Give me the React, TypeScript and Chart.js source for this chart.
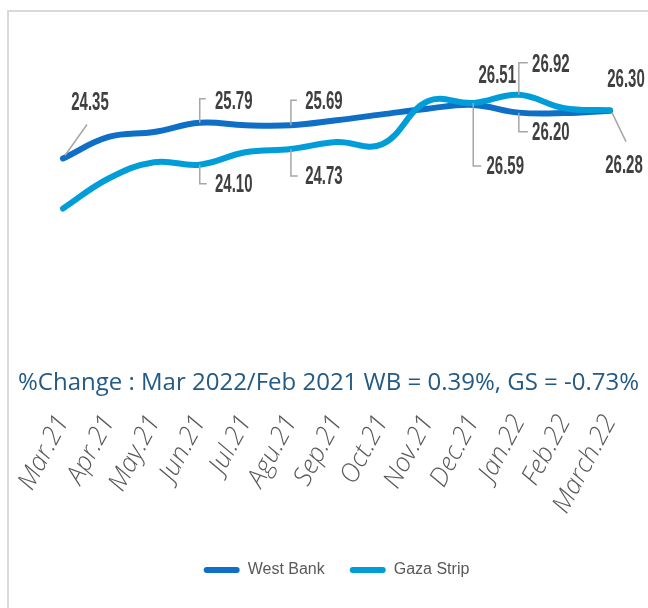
import React, { useEffect, useRef } from 'react';
import { Chart, registerables } from 'chart.js';

Chart.register(...registerables);

const categories = ['Mar.21', 'Apr.21', 'May.21', 'Jun.21', 'Jul.21', 'Agu.21', 'Sep.21', 'Oct.21', 'Nov.21', 'Dec.21', 'Jan.22', 'Feb.22', 'March.22'];
const westBank = [24.35, 25.22, 25.42, 25.79, 25.69, 25.69, 25.89, 26.13, 26.36, 26.51, 26.2, 26.18, 26.28];
const gazaStrip = [22.33, 23.54, 24.2, 24.1, 24.6, 24.73, 25.01, 24.92, 26.66, 26.59, 26.92, 26.38, 26.3];
const seriesNames = ['West Bank', 'Gaza Strip'];
const seriesColors = ['#0F6FC6', '#009DD9'];
const changeNote = '%Change : Mar 2022/Feb 2021 WB = 0.39%, GS = -0.73%';
const yMin = 14.68;
const yMax = 30.02;

type LabelSpec = { series: number; index: number; dx: number; dy: number; leader: number[][] };

// label placement: offsets from the data point, with optional leader polyline
const labelSpecs: LabelSpec[] = [
  { series: 0, index: 0, dx: 27, dy: -56, leader: [[2, -3], [24, -34]] },
  { series: 0, index: 3, dx: 34, dy: -22, leader: [[0, 0], [0, -24], [6, -24]] },
  { series: 0, index: 5, dx: 33, dy: -24, leader: [[0, 0], [0, -25], [6, -25]] },
  { series: 1, index: 3, dx: 34, dy: 19, leader: [[0, 0], [0, 19], [7, 19]] },
  { series: 1, index: 5, dx: 33, dy: 27, leader: [[0, 0], [0, 27], [7, 27]] },
  { series: 1, index: 9, dx: 32, dy: 63, leader: [[0, 0], [0, 63], [8, 63]] },
  { series: 0, index: 9, dx: 24, dy: -30, leader: [] },
  { series: 1, index: 10, dx: 32, dy: -31, leader: [[0, 0], [0, -32], [9, -32]] },
  { series: 0, index: 10, dx: 32, dy: 19, leader: [[0, 0], [0, 19], [9, 19]] },
  { series: 1, index: 12, dx: 16, dy: -31, leader: [] },
  { series: 0, index: 12, dx: 14, dy: 54, leader: [[2, 2], [16, 31]] },
];

const valueLabelPlugin = {
  id: 'valueLabels',
  afterDatasetsDraw(chart: any) {
    const ctx = chart.ctx;
    ctx.save();
    labelSpecs.forEach((s) => {
      const meta = chart.getDatasetMeta(s.series);
      const pt = meta.data[s.index];
      const value = chart.data.datasets[s.series].data[s.index] as number;
      const x = pt.x;
      const y = pt.y;
      if (s.leader.length) {
        ctx.beginPath();
        ctx.strokeStyle = '#A6A6A6';
        ctx.lineWidth = 1.5;
        s.leader.forEach(([lx, ly], k) => {
          if (k === 0) ctx.moveTo(x + lx, y + ly);
          else ctx.lineTo(x + lx, y + ly);
        });
        ctx.stroke();
      }
      ctx.save();
      ctx.translate(x + s.dx, y + s.dy);
      ctx.scale(0.6, 1);
      ctx.font = 'bold 25px "Liberation Sans", Arial, sans-serif';
      ctx.fillStyle = '#404040';
      ctx.textAlign = 'center';
      ctx.textBaseline = 'middle';
      ctx.fillText(value.toFixed(2), 0, 1);
      ctx.restore();
    });
    ctx.restore();
  },
};

export default function App() {
  const canvasRef = useRef<HTMLCanvasElement | null>(null);

  useEffect(() => {
    if (!canvasRef.current) return;
    const chart = new Chart(canvasRef.current, {
      type: 'line',
      data: {
        labels: categories,
        datasets: [
          {
            label: seriesNames[0],
            data: westBank,
            borderColor: seriesColors[0],
            backgroundColor: seriesColors[0],
            borderWidth: 6,
            pointRadius: 0,
            tension: 0.4,
            borderCapStyle: 'round',
            borderJoinStyle: 'round',
            clip: false,
            order: 1,
          },
          {
            label: seriesNames[1],
            data: gazaStrip,
            borderColor: seriesColors[1],
            backgroundColor: seriesColors[1],
            borderWidth: 6,
            pointRadius: 0,
            tension: 0.4,
            borderCapStyle: 'round',
            borderJoinStyle: 'round',
            clip: false,
            order: 0,
          },
        ],
      },
      options: {
        responsive: false,
        animation: false,
        layout: { padding: { left: 63, right: 38, top: 18, bottom: 20 } },
        scales: {
          x: {
            offset: false,
            grid: { display: false },
            border: { display: false },
            ticks: {
              autoSkip: false,
              minRotation: 62,
              maxRotation: 62,
              padding: 4,
              color: '#595959',
              font: { family: '"Open Sans"', size: 26, style: 'italic', weight: '300' },
            },
            afterFit: (axis: any) => {
              axis.height = 139;
            },
          },
          y: { display: false, min: yMin, max: yMax },
        },
        plugins: {
          legend: {
            position: 'bottom',
            labels: {
              boxWidth: 36,
              boxHeight: 6,
              padding: 25,
              useBorderRadius: true,
              borderRadius: 3,
              color: '#595959',
              font: { family: '"Liberation Sans", Arial, sans-serif', size: 16 },
              sort: (a: any, b: any) => a.datasetIndex - b.datasetIndex,
              generateLabels: (c: any) =>
                (Chart.defaults.plugins.legend.labels.generateLabels as any)(c).map((item: any) => ({
                  ...item,
                  fillStyle: seriesColors[item.datasetIndex],
                  strokeStyle: seriesColors[item.datasetIndex],
                  lineWidth: 0,
                })),
            },
          },
          tooltip: { enabled: false },
        },
      },
      plugins: [valueLabelPlugin],
    } as any);
    return () => chart.destroy();
  }, []);

  return (
    <div style={{ position: 'absolute', left: 0, top: 0, width: 648, height: 608, background: '#fff', overflow: 'hidden' }}>
      <div
        style={{
          position: 'absolute',
          left: 7,
          top: 10,
          width: 700,
          height: 700,
          borderTop: '2px solid #D9D9D9',
          borderLeft: '2px solid #D9D9D9',
        }}
      />
      <canvas ref={canvasRef} width={648} height={608} style={{ position: 'absolute', left: 0, top: 0 }} />
      <div
        style={{
          position: 'absolute',
          left: 18,
          top: 366,
          fontFamily: '"Open Sans"',
          fontSize: 24,
          lineHeight: '30px',
          color: '#245A84',
          whiteSpace: 'nowrap',
        }}
      >
        {changeNote}
      </div>
    </div>
  );
}
